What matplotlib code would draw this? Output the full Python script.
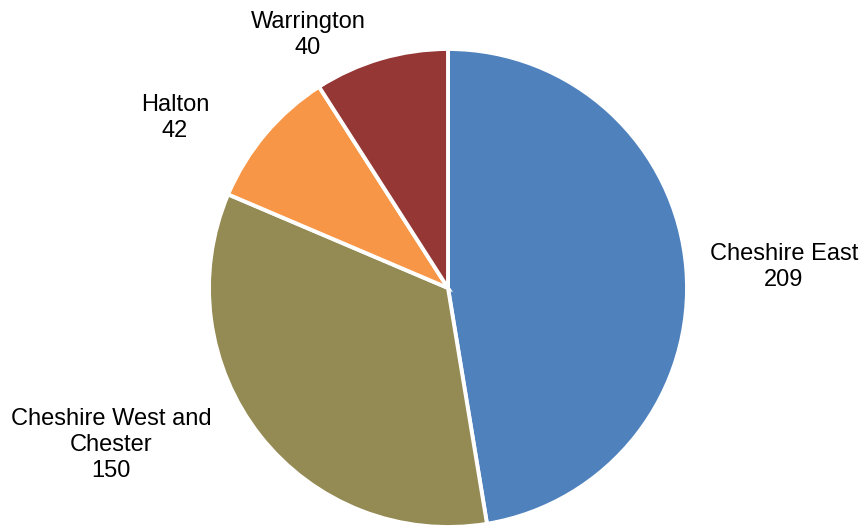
import matplotlib
matplotlib.use("Agg")
import matplotlib.pyplot as plt

# data
areas = ["Cheshire East", "Cheshire West and\nChester", "Halton", "Warrington"]
counts = [209, 150, 42, 40]
colours = ["#4F81BD", "#948A54", "#F79646", "#953735"]
# label centres, in units of the pie radius
label_pos = [(1.406, 0.088), (-1.41, -0.657), (-1.142, 0.711), (-0.586, 1.059)]

plt.rcParams['font.family'] = ['Liberation Sans', 'DejaVu Sans']

fig = plt.figure(figsize=(8.67, 5.30), dpi=100)
ax = fig.add_axes([0, 0, 1, 1])

wedges, _ = ax.pie(counts, colors=colours, startangle=90, counterclock=False,
                   radius=1, wedgeprops=dict(edgecolor="white", linewidth=2.8))

for name, n, (x, y) in zip(areas, counts, label_pos):
    ax.text(x, y, "{}\n{}".format(name, n), ha="center", va="center",
            fontsize=17, color="black", linespacing=1.22)

# 239 px per unit radius, centre at (448, 288) from top-left
ax.set_aspect("auto")
ax.set_xlim(-448 / 239, (867 - 448) / 239)
ax.set_ylim(-(530 - 288) / 239, 288 / 239)
ax.axis("off")

fig.savefig("out.png", dpi=100)
